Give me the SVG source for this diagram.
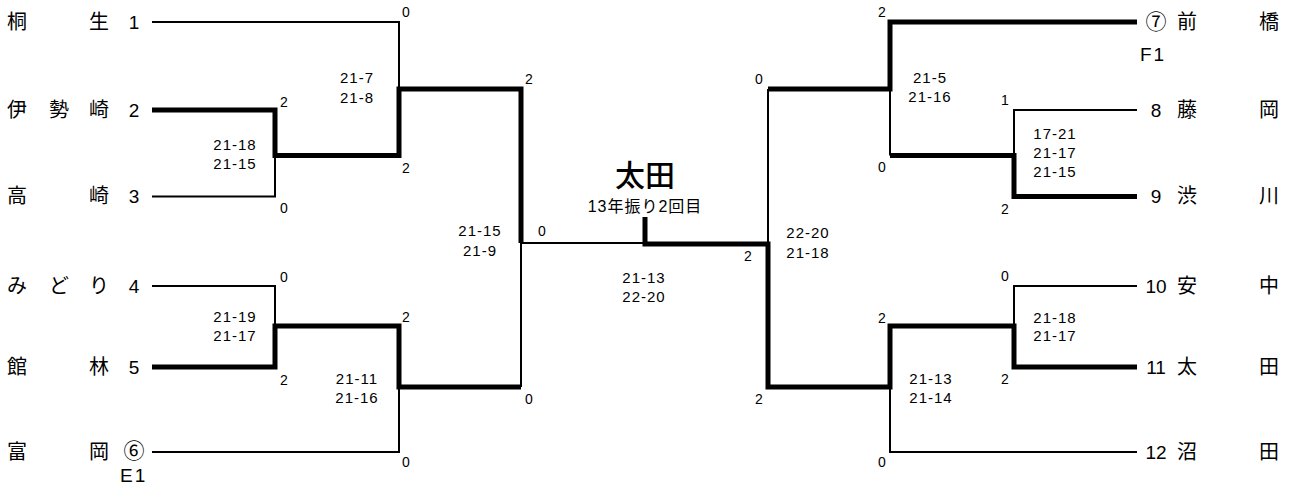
<svg xmlns="http://www.w3.org/2000/svg" width="1294" height="495" viewBox="0 0 1294 495">
<style>
text{font-family:"Liberation Sans","Noto Sans CJK JP",sans-serif;fill:#000}
.nm{font-size:20px}
.no{font-size:19px;text-anchor:middle}
.cd{font-family:"Noto Sans CJK JP",sans-serif;font-size:21px;text-anchor:middle}
.sd{font-size:19px;letter-spacing:2px}
.sc{font-size:15px;text-anchor:middle;letter-spacing:1px}
.pt{font-size:14px;text-anchor:middle}
.thin{fill:none;stroke:#000;stroke-width:2}
.thick{fill:none;stroke:#000;stroke-width:5}
.ch{font-size:30px;font-weight:500;text-anchor:middle}
.sub{font-size:16px;text-anchor:middle;letter-spacing:1px}
</style>
<rect width="1294" height="495" fill="#fff"/>
<g id="connectors">
<path class="thin" d="M152,22 H399 V89"/>
<path class="thin" d="M152,196.5 H275 V155.5"/>
<path class="thin" d="M152,286 H275 V326"/>
<path class="thin" d="M152,452 H399 V387"/>
<path class="thin" d="M521,243 V387"/>
<path class="thin" d="M521,243 H645"/>
<path class="thin" d="M768,244 V89"/>
<path class="thin" d="M890,89 V155.5"/>
<path class="thin" d="M1014,155.5 V110 H1137"/>
<path class="thin" d="M1014,326 V286 H1137"/>
<path class="thin" d="M890,387 V452 H1137"/>
<path class="thick" d="M152,110 H275 V155.5 H399 V89 H521 V243"/>
<path class="thick" d="M152,367 H275 V326 H399 V387 H521"/>
<path class="thick" d="M645,217 V244 H768 V387 H890 V326 H1014 V367 H1137"/>
<path class="thick" d="M768,89 H890 V22 H1137"/>
<path class="thick" d="M890,155.5 H1014 V196.5 H1137"/>
</g>
<g id="team-1"><text class="nm" x="7" y="29">桐</text><text class="nm" x="89" y="29">生</text><text class="no" x="134" y="29">1</text></g>
<g id="team-2"><text class="nm" x="7" y="117">伊</text><text class="nm" x="49" y="117">勢</text><text class="nm" x="89" y="117">崎</text><text class="no" x="134" y="117">2</text></g>
<g id="team-3"><text class="nm" x="7" y="203">高</text><text class="nm" x="89" y="203">崎</text><text class="no" x="134" y="203">3</text></g>
<g id="team-4"><text class="nm" x="7" y="293">み</text><text class="nm" x="49" y="293">ど</text><text class="nm" x="89" y="293">り</text><text class="no" x="134" y="293">4</text></g>
<g id="team-5"><text class="nm" x="7" y="374">館</text><text class="nm" x="89" y="374">林</text><text class="no" x="134" y="374">5</text></g>
<g id="team-6"><text class="nm" x="7" y="459">富</text><text class="nm" x="89" y="459">岡</text><text class="cd" x="134" y="458">⑥</text><text class="sd" x="120" y="482">E1</text></g>
<g id="team-7"><text class="cd" x="1156" y="29">⑦</text><text class="nm" x="1177" y="29">前</text><text class="nm" x="1259" y="29">橋</text><text class="sd" x="1140" y="61">F1</text></g>
<g id="team-8"><text class="no" x="1156" y="117">8</text><text class="nm" x="1177" y="117">藤</text><text class="nm" x="1259" y="117">岡</text></g>
<g id="team-9"><text class="no" x="1156" y="203">9</text><text class="nm" x="1177" y="203">渋</text><text class="nm" x="1259" y="203">川</text></g>
<g id="team-10"><text class="no" x="1156" y="293">10</text><text class="nm" x="1177" y="293">安</text><text class="nm" x="1259" y="293">中</text></g>
<g id="team-11"><text class="no" x="1156" y="374">11</text><text class="nm" x="1177" y="374">太</text><text class="nm" x="1259" y="374">田</text></g>
<g id="team-12"><text class="no" x="1156" y="459">12</text><text class="nm" x="1177" y="459">沼</text><text class="nm" x="1259" y="459">田</text></g>
<g id="champion"><text class="ch" x="645" y="186">太田</text><text class="sub" x="645" y="212">13年振り2回目</text></g>
<g id="scores">
<text class="sc" x="235" y="150">21-18</text><text class="sc" x="235" y="169">21-15</text>
<text class="sc" x="235" y="322">21-19</text><text class="sc" x="235" y="341">21-17</text>
<text class="sc" x="357" y="83">21-7</text><text class="sc" x="357" y="103">21-8</text>
<text class="sc" x="357" y="384">21-11</text><text class="sc" x="357" y="403">21-16</text>
<text class="sc" x="480" y="236">21-15</text><text class="sc" x="480" y="256">21-9</text>
<text class="sc" x="644" y="283">21-13</text><text class="sc" x="644" y="302">22-20</text>
<text class="sc" x="808" y="238">22-20</text><text class="sc" x="808" y="258">21-18</text>
<text class="sc" x="930" y="83">21-5</text><text class="sc" x="930" y="102">21-16</text>
<text class="sc" x="931" y="384">21-13</text><text class="sc" x="931" y="403">21-14</text>
<text class="sc" x="1055" y="139">17-21</text><text class="sc" x="1055" y="158">21-17</text><text class="sc" x="1055" y="177">21-15</text>
<text class="sc" x="1055" y="323">21-18</text><text class="sc" x="1055" y="341">21-17</text>
</g>
<g id="points">
<text class="pt" x="406" y="17">0</text>
<text class="pt" x="284" y="107">2</text>
<text class="pt" x="284" y="213">0</text>
<text class="pt" x="406" y="173">2</text>
<text class="pt" x="529" y="84">2</text>
<text class="pt" x="542" y="236">0</text>
<text class="pt" x="529" y="404">0</text>
<text class="pt" x="406" y="322">2</text>
<text class="pt" x="406" y="467">0</text>
<text class="pt" x="284" y="282">0</text>
<text class="pt" x="284" y="385">2</text>
<text class="pt" x="748" y="261">2</text>
<text class="pt" x="882" y="17">2</text>
<text class="pt" x="759" y="84">0</text>
<text class="pt" x="1005" y="105">1</text>
<text class="pt" x="882" y="172">0</text>
<text class="pt" x="1005" y="214">2</text>
<text class="pt" x="759" y="404">2</text>
<text class="pt" x="882" y="323">2</text>
<text class="pt" x="1005" y="281">0</text>
<text class="pt" x="1005" y="384">2</text>
<text class="pt" x="882" y="467">0</text>
</g>
</svg>
